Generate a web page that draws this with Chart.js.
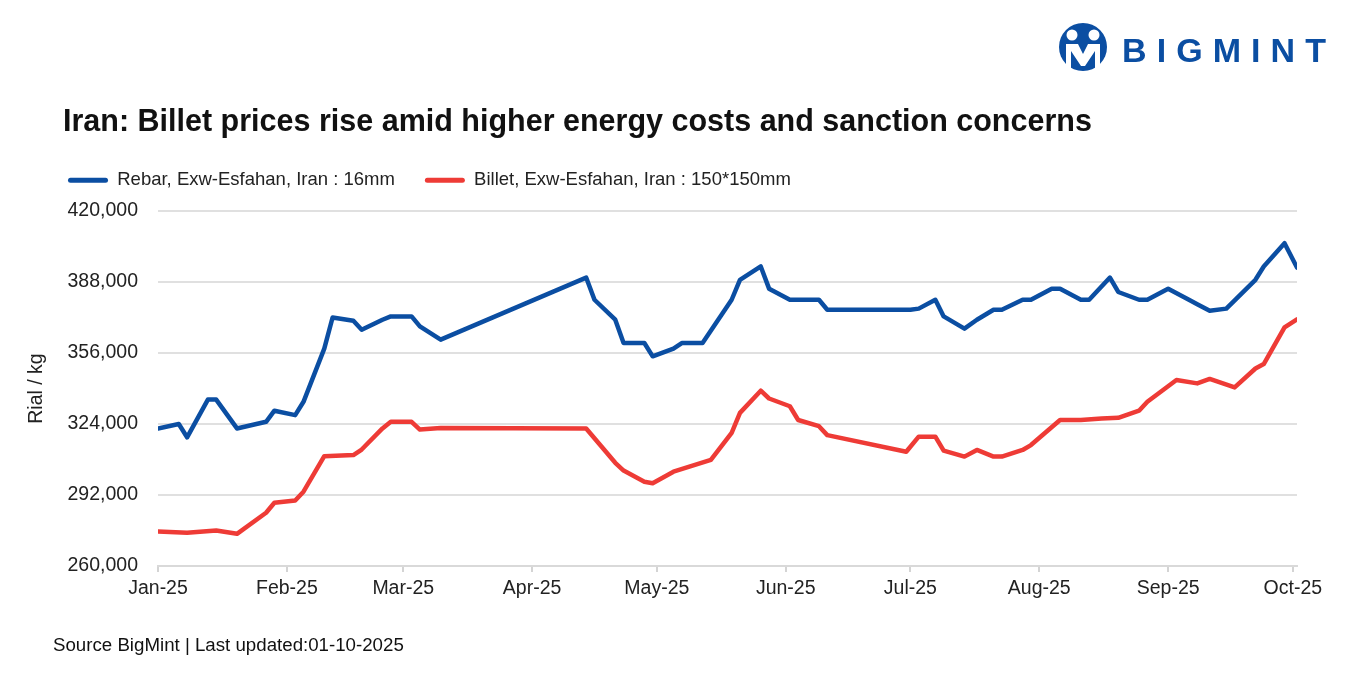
<!DOCTYPE html>
<html>
<head>
<meta charset="utf-8">
<script src="https://cdn.jsdelivr.net/npm/chart.js@4.4.1/dist/chart.umd.min.js"></script>
<style>
  html, body { margin:0; padding:0; background:#fff; }
  body { width:1352px; height:679px; position:relative; overflow:hidden; font-family:"Liberation Sans", Arial, sans-serif; }
  #wrap { position:absolute; left:0; top:0; width:1352px; height:679px; }
  #title { position:absolute; left:63px; top:102px; font-size:30.5px; font-weight:bold; color:#111; line-height:36px; white-space:nowrap; }
  #footer { position:absolute; left:53px; top:634px; font-size:18.7px; color:#111; line-height:22px; white-space:nowrap; }
  #logo { position:absolute; left:1054px; top:20px; }
</style>
</head>
<body>
<div id="wrap"><canvas id="c" width="1352" height="679"></canvas></div>
<div id="title">Iran: Billet prices rise amid higher energy costs and sanction concerns</div>
<div id="footer">Source BigMint | Last updated:01-10-2025</div>
<svg id="logo" width="280" height="56" viewBox="0 0 280 56">
  <circle cx="29" cy="27" r="24" fill="#0B4EA2"/>
  <circle cx="18" cy="15" r="5.5" fill="#fff"/>
  <circle cx="40" cy="15" r="5.5" fill="#fff"/>
  <path d="M12 24 L24 24 L29 34 L34 24 L46 24 L46 48 L41 48 L41 31 L31 46 L27 46 L17 31 L17 48 L12 48 Z" fill="#fff"/>
  <text x="68" y="42" font-family="Liberation Sans, Arial, sans-serif" font-weight="bold" font-size="34" fill="#0B4EA2" textLength="204" lengthAdjust="spacing">BIGMINT</text>
</svg>
<script>
// ---- data (day offsets from 1 Jan 2025) ----
const monthTickDays = [0, 31, 59, 90, 120, 151, 181, 212, 243, 273];
const monthTickLabels = ["Jan-25", "Feb-25", "Mar-25", "Apr-25", "May-25", "Jun-25", "Jul-25", "Aug-25", "Sep-25", "Oct-25"];

const rebarLabel = "Rebar, Exw-Esfahan, Iran : 16mm";
const rebarDays = [0,5,7,12,14,19,26,28,33,35,40,42,47,49,54,56,61,63,68,103,105,110,112,117,119,124,126,131,138,140,145,147,152,159,161,181,183,187,189,194,197,201,203,208,210,215,217,222,224,229,231,236,238,243,248,250,253,257,264,266,271,274];
const rebarValues = [322000,324000,318000,335000,335000,322000,325000,330000,328000,334000,358000,372000,370500,366500,371000,372500,372500,368000,362000,390000,380000,371000,360500,360500,354500,358000,360500,360500,380000,389000,395000,385000,380000,380000,375500,375500,376000,380000,372500,367000,371000,375500,375500,380000,380000,385000,385000,380000,380000,390000,383500,380000,380000,385000,380000,378000,375000,376000,389000,395000,405500,394500];

const billetLabel = "Billet, Exw-Esfahan, Iran : 150*150mm";
const billetDays = [0,7,14,19,26,28,33,35,40,47,49,54,56,61,63,68,103,110,112,117,119,124,133,138,140,145,147,152,154,159,161,180,183,187,189,194,197,201,203,208,210,217,222,227,231,236,238,245,250,253,259,264,266,271,274];
const billetValues = [275500,275000,276000,274500,284000,288500,289500,293500,309500,310000,312500,322000,325000,325000,321500,322200,322000,306500,303000,298000,297300,302500,307800,320000,329000,339000,335500,332000,325800,323000,319000,311500,318300,318300,312000,309300,312300,309300,309300,312300,314500,325800,325800,326500,326800,330000,334000,343800,342300,344300,340500,349000,351000,367500,371200];

const yMin = 260000, yMax = 420000, yStep = 32000;
// -------------------------------------------

const BLUE = '#0B4EA2', RED = '#EE3B36';
const FONT = "'Liberation Sans', Arial, sans-serif";

function pts(days, vals) { return days.map((d, i) => ({ x: d, y: vals[i] })); }

const legendTweak = {
  id: 'legendTweak',
  beforeLayout(chart) {
    const lg = chart.legend;
    if (lg && !lg._patched) {
      const orig = lg.fit;
      lg.fit = function () { orig.call(this); this.height = 70; };
      lg._patched = true;
    }
  },
  afterLayout(chart) {
    const lg = chart.legend;
    if (lg) { const w = lg.right - lg.left; lg.left = 38; lg.right = 38 + w; }
  }
};

new Chart(document.getElementById('c'), {
  type: 'line',
  data: {
    datasets: [
      { label: rebarLabel, data: pts(rebarDays, rebarValues), borderColor: BLUE, backgroundColor: BLUE,
        borderWidth: 4.5, pointRadius: 0, tension: 0, borderJoinStyle: 'round', borderCapStyle: 'round' },
      { label: billetLabel, data: pts(billetDays, billetValues), borderColor: RED, backgroundColor: RED,
        borderWidth: 4.5, pointRadius: 0, tension: 0, borderJoinStyle: 'round', borderCapStyle: 'round' }
    ]
  },
  options: {
    responsive: false,
    animation: false,
    layout: { padding: { left: 20, right: 55, top: 141, bottom: 79 } },
    plugins: {
      title: { display: false },
      tooltip: { enabled: false },
      legend: {
        display: true,
        position: 'top',
        align: 'start',
        labels: {
          font: { family: FONT, size: 18.5 },
          color: '#222',
          boxWidth: 40,
          boxHeight: 5,
          padding: 30,
          useBorderRadius: true,
          borderRadius: 2.5,
          generateLabels(chart) {
            const items = Chart.defaults.plugins.legend.labels.generateLabels(chart);
            items.forEach(it => { it.lineWidth = 0; it.fillStyle = it.strokeStyle; });
            return items;
          }
        }
      }
    },
    scales: {
      x: {
        type: 'linear',
        min: 0,
        max: 274,
        afterBuildTicks(scale) { scale.ticks = monthTickDays.map(v => ({ value: v })); },
        afterFit(scale) { scale.height = 34; },
        ticks: {
          autoSkip: false, maxRotation: 0, minRotation: 0, padding: 5,
          font: { family: FONT, size: 19.5 }, color: '#222',
          callback(value) { const i = monthTickDays.indexOf(value); return i >= 0 ? monthTickLabels[i] : ''; }
        },
        grid: { drawOnChartArea: false, drawTicks: true, tickLength: 6, color: '#d4d4d4', lineWidth: 2 },
        border: { display: true, color: '#d9d9d9', width: 2 }
      },
      y: {
        min: yMin, max: yMax,
        afterBuildTicks(scale) {
          const t = []; for (let v = yMin; v <= yMax; v += yStep) t.push({ value: v }); scale.ticks = t;
        },
        afterFit(scale) { scale.width = 138; },
        ticks: {
          padding: 20,
          font: { family: FONT, size: 19.5 }, color: '#222',
          callback(value) { return value.toLocaleString('en-US'); }
        },
        grid: { drawTicks: false, color: '#e0e0e0', lineWidth: 2 },
        border: { display: false },
        title: { display: true, text: 'Rial / kg', font: { family: FONT, size: 19.5 }, color: '#222', padding: { top: 5, bottom: 0 } }
      }
    }
  },
  plugins: [legendTweak]
});
</script>
</body>
</html>
